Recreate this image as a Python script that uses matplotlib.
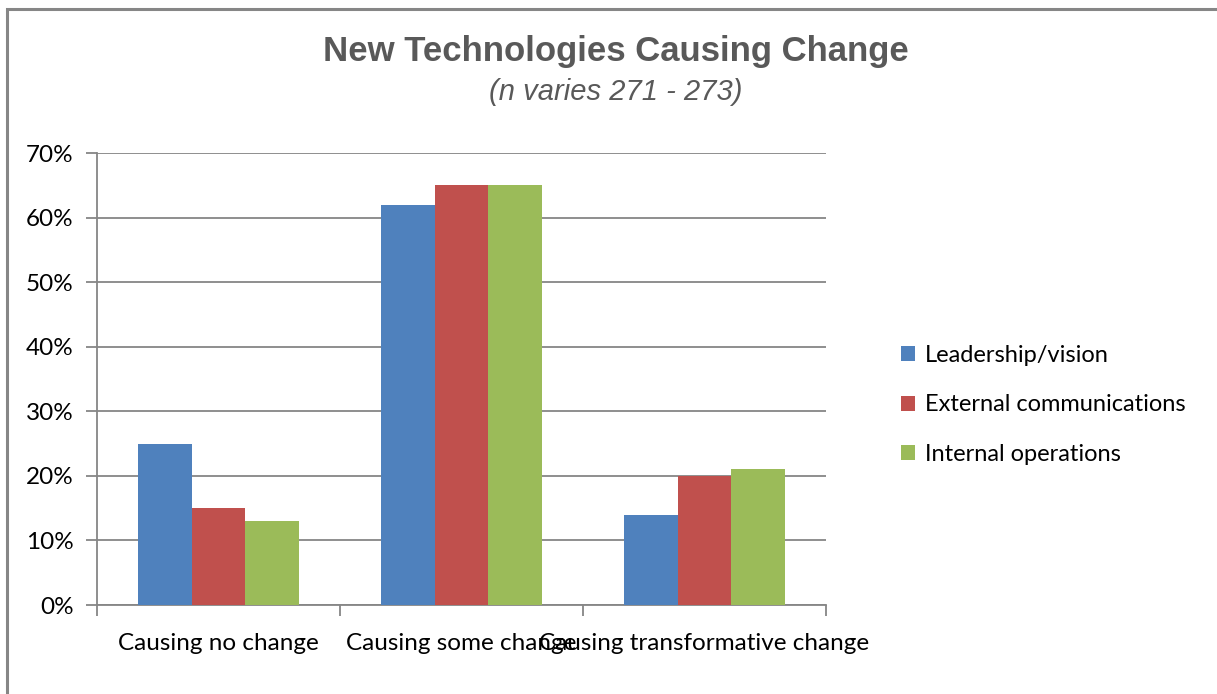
#!/usr/bin/env python3
import matplotlib

matplotlib.use("Agg")
import matplotlib.pyplot as plt
from matplotlib.patches import Rectangle, Patch
from matplotlib.ticker import FuncFormatter

# Data
categories = ["Causing no change", "Causing some change", "Causing transformative change"]
series = ["Leadership/vision", "External communications", "Internal operations"]
leadership = [25, 62, 14]
external = [15, 65, 20]
internal = [13, 65, 21]
yticks = [0, 10, 20, 30, 40, 50, 60, 70]

colors = ["#4F81BD", "#C0504D", "#9BBB59"]
grid_color = "#868686"
font = ["Lato", "DejaVu Sans"]
narrow = ["Liberation Sans Narrow", "Liberation Sans", "DejaVu Sans"]
fs = 17.5

fig = plt.figure(figsize=(12.17, 6.94), dpi=100)
W, H = 1217.0, 694.0

# outer chart border (only left/top visible)
fig.patches.append(
    Rectangle((6.5 / W, -0.1), 1.2, (694 - 8.5) / H + 0.1, transform=fig.transFigure,
              fill=False, edgecolor="#868686", lw=2.2, zorder=0)
)

ax = fig.add_axes([97 / W, 89 / H, (826 - 97) / W, (605 - 153) / H])

width = 0.22
for k, vals in enumerate([leadership, external, internal]):
    xs = [i + (k - 1) * width for i in range(len(categories))]
    ax.bar(xs, vals, width=width, color=colors[k], zorder=3, label=series[k])

ax.set_xlim(-0.5, 2.5)
ax.set_ylim(0, 70)
ax.set_yticks(yticks)
ax.yaxis.set_major_formatter(FuncFormatter(lambda v, p: f"{v:.0f}%"))
ax.yaxis.grid(True, color=grid_color, lw=1.3, zorder=0)

ax.set_xticks([-0.5, 0.5, 1.5, 2.5])
ax.set_xticklabels([])
ax.set_xticks([0, 1, 2], minor=True)
ax.set_xticklabels(categories, minor=True, fontsize=fs, family=font)
ax.tick_params(axis="x", which="minor", length=0, pad=20)
ax.tick_params(axis="x", which="major", length=8, width=1.3, color=grid_color)
ax.tick_params(axis="y", length=8, width=1.3, color=grid_color, pad=9)
for lbl in ax.get_yticklabels():
    lbl.set_fontsize(fs)
    lbl.set_family(font)

for s in ["top", "right"]:
    ax.spines[s].set_visible(False)
for s in ["left", "bottom"]:
    ax.spines[s].set_color(grid_color)
    ax.spines[s].set_linewidth(1.3)

fig.text(616 / W, 1 - 51 / H, "New Technologies Causing Change", ha="center", va="center",
         fontsize=25, fontweight="bold", color="#595959", family=narrow)
fig.text(616 / W, 1 - 92 / H, "(n varies 271 - 273)", ha="center", va="center",
         fontsize=21, style="italic", color="#595959", family=narrow)

handles = [Patch(facecolor=c, label=s) for c, s in zip(colors, series)]
fig.legend(handles=handles, loc="center left", bbox_to_anchor=(880 / W, 1 - 405 / H),
           frameon=False, prop={"family": font, "size": 17}, handlelength=0.6,
           handleheight=0.6, handletextpad=0.4, labelspacing=1.2)

fig.savefig("out.png", dpi=100)
